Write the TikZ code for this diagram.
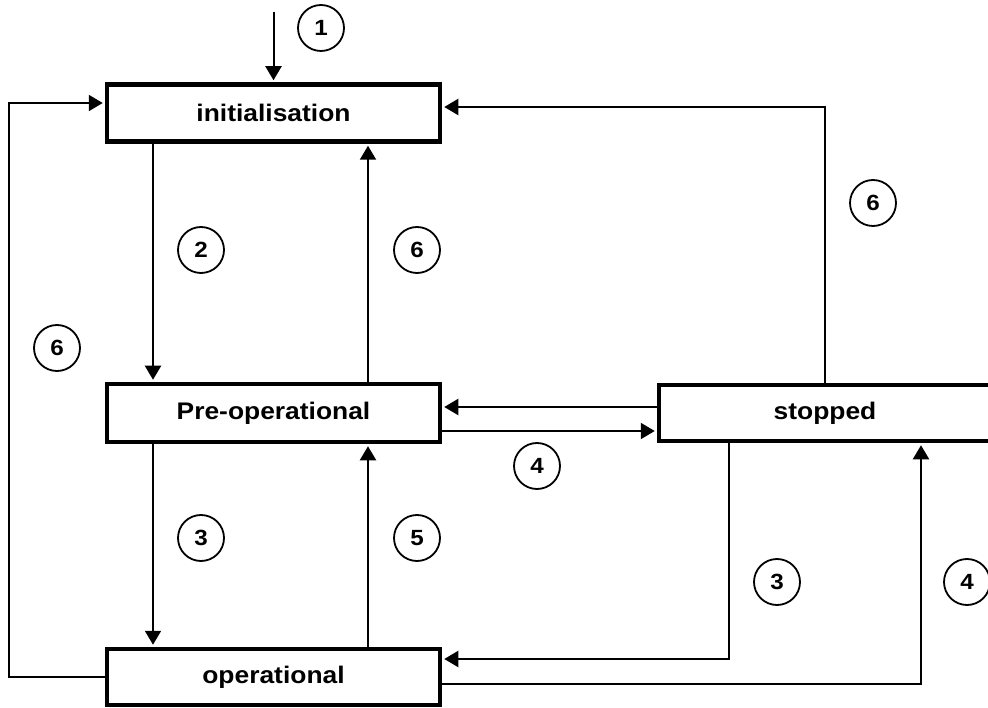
\documentclass[tikz,border=0pt]{standalone}
\usepackage{fontspec}
\setmainfont{Liberation Sans}[FakeStretch=1.1]
\usetikzlibrary{arrows.meta}
\tikzset{
    statebox/.style={draw, line width=4.5pt, inner sep=0pt, minimum width=333pt, minimum height=57pt, font=\fontsize{24}{28}\selectfont\bfseries},
    num/.style={draw, circle, line width=1.8pt, inner sep=0pt, minimum size=46pt, font=\fontsize{22}{26}\selectfont\bfseries},
    arr/.style={line width=2pt, -{Triangle[width=16pt,length=14pt]}, shorten >=2pt},
    wire/.style={line width=2pt}
}
\begin{document}
\begin{tikzpicture}[x=1pt,y=-1pt]
\useasboundingbox (0,0) rectangle (988,708);
\node[statebox] (init) at (273.5,113) {initialisation};
\node[statebox, minimum height=58pt] (preop) at (273.5,413) {Pre-operational};
\node[statebox, minimum height=56pt] (oper) at (273.5,677) {operational};
\node[statebox, minimum width=332pt, minimum height=56pt] (stop) at (825,413) {stopped};
\coordinate (start) at (273.5,12);
% transitions
\draw[arr] (start) -- (init);
\draw[arr] ([xshift=-120.5pt]init.south) -- ([xshift=-120.5pt]preop.north);
\draw[arr] ([xshift=94.5pt]preop.north) -- ([xshift=94.5pt]init.south);
\draw[arr] ([xshift=-120.5pt]preop.south) -- ([xshift=-120.5pt]oper.north);
\draw[arr] ([xshift=94.5pt]oper.north) -- ([xshift=94.5pt]preop.south);
\draw[arr] (oper.west) -- ++(-96,0) |- ([yshift=10pt]init.west);
\draw[arr] ([yshift=6pt]stop.west) -- ([yshift=6pt]preop.east);
\draw[arr] ([yshift=-18pt]preop.east) -- ([yshift=-18pt]stop.west);
\draw[arr] (stop.north) |- ([yshift=6pt]init.east);
\draw[arr] ([xshift=-96pt]stop.south) |- ([yshift=18pt]oper.east);
\draw[arr] ([yshift=-7pt]oper.east) -| ([xshift=96pt]stop.south);
% numbers
\foreach \x/\y/\t [count=\i] in {321/28/1, 201/250/2, 417/250/6, 57/348/6, 873/203/6, 537/466/4, 201/538/3, 417/538/5, 777/582/3, 967/582/4}
    \node[num] (n\i) at (\x,\y) {\t};
\end{tikzpicture}
\end{document}
